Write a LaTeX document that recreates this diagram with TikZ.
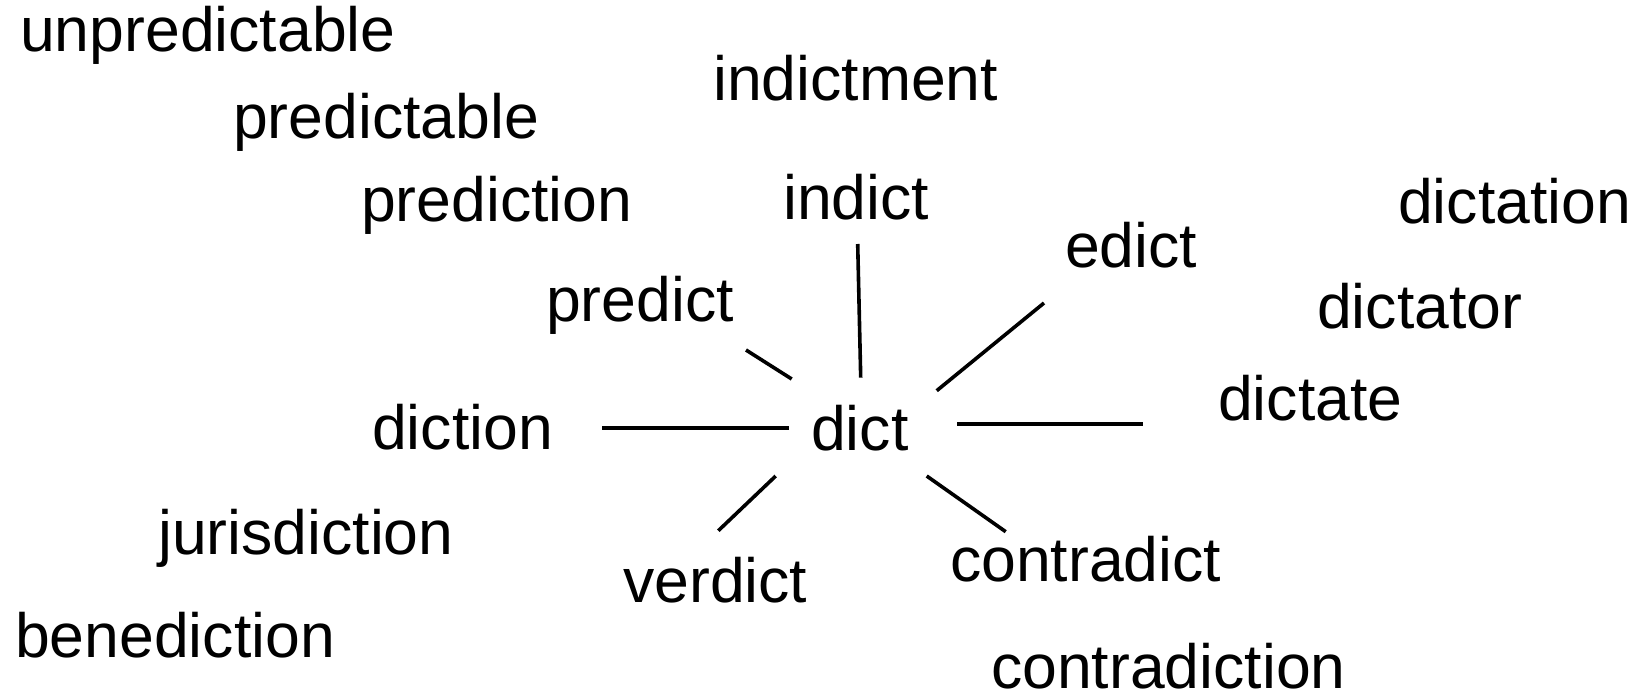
\documentclass[tikz,border=0pt]{standalone}
\usepackage{fontspec}
\setmainfont{Liberation Sans}
\begin{document}
\begin{tikzpicture}[x=1pt,y=-1pt,
  word/.style={anchor=base west,inner sep=0pt,font=\fontsize{62.5}{70}\selectfont},
  spoke/.style={line width=3.6pt}]
\useasboundingbox (0,0) rectangle (1637,695);
\node[word] (unpredictable) at (20,52) {unpredictable};
\node[word] (predictable) at (233,139) {predictable};
\node[word] (prediction) at (361,221) {prediction};
\node[word] (indictment) at (713,101) {indictment};
\node[word] (indict) at (783,219) {indict};
\node[word] (edict) at (1065,267) {edict};
\node[word] (predict) at (546,321) {predict};
\node[word] (dictation) at (1398,223) {dictation};
\node[word] (dictator) at (1317,328) {dictator};
\node[word] (dictate) at (1218,420) {dictate};
\node[word] (diction) at (372,449) {diction};
\node[word] (dict) at (811,450) {dict};
\node[word] (jurisdiction) at (158,554) {jurisdiction};
\node[word] (verdict) at (623,602) {verdict};
\node[word] (contradict) at (950,581) {contradict};
\node[word] (benediction) at (15,657) {benediction};
\node[word] (contradiction) at (991,688) {contradiction};
% spoke end points
\coordinate (pA) at (746,350);   \coordinate (pB) at (791.7,379);
\coordinate (iA) at (857.7,244); \coordinate (iB) at (860.7,377.7);
\coordinate (eA) at (936.7,390.7); \coordinate (eB) at (1044,303);
\coordinate (tA) at (957,424);   \coordinate (tB) at (1143,424);
\coordinate (dA) at (602.3,428); \coordinate (dB) at (789.3,428);
\coordinate (vA) at (775.7,476); \coordinate (vB) at (718.3,530.7);
\coordinate (cA) at (926.7,476); \coordinate (cB) at (1005.7,531.7);
\draw[spoke] (pA) -- (pB);
\draw[spoke] (iA) -- (iB);
\draw[spoke] (eA) -- (eB);
\draw[spoke] (tA) -- (tB);
\draw[spoke] (dA) -- (dB);
\draw[spoke] (vA) -- (vB);
\draw[spoke] (cA) -- (cB);
\end{tikzpicture}
\end{document}
